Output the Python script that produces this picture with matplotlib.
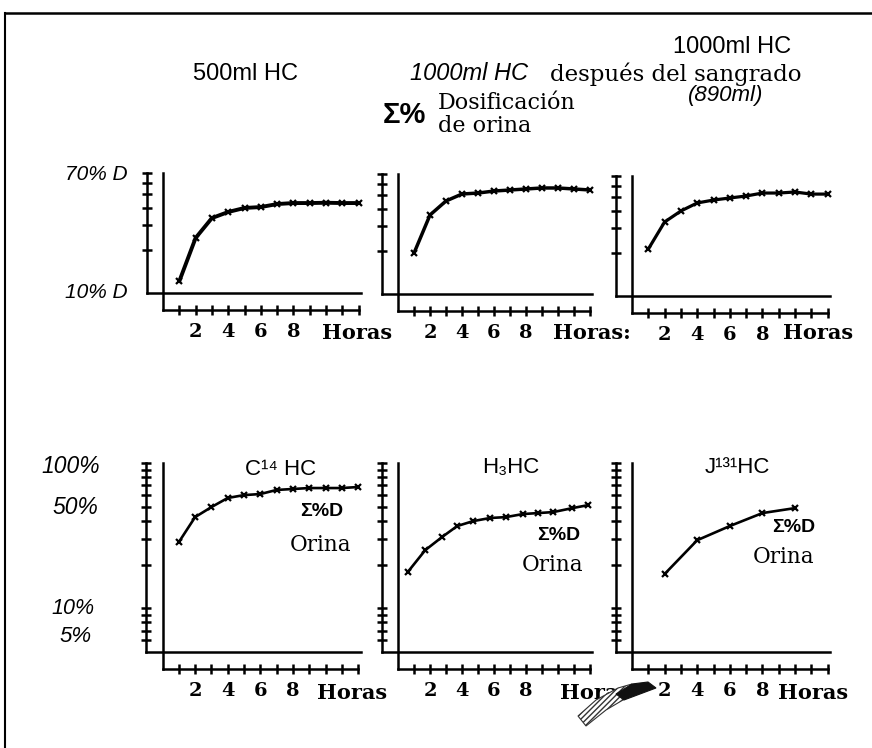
import numpy as np
import matplotlib
matplotlib.use("Agg")
import matplotlib.pyplot as plt
from matplotlib.lines import Line2D
from matplotlib.patches import Polygon
from matplotlib.ticker import NullLocator, NullFormatter

W, H = 872, 748

# ---------------- data (cumulative % of dose in urine) ----------------
hours = [1, 2, 3, 4, 5, 6, 7, 8, 9, 10, 11, 12]
hc500 = [12.1, 24.4, 33.7, 37.2, 39.7, 40.3, 42.3, 43.0, 43.0, 43.2, 43.0, 43.0]
hc1000 = [19.4, 36.0, 45.2, 50.6, 51.4, 53.1, 54.0, 54.9, 55.8, 55.8, 54.9, 54.0]
hc1000_bleed = [21.4, 33.2, 39.7, 45.2, 47.4, 49.0, 50.6, 53.1, 53.1, 54.0, 52.2, 52.2]

c14_hours = [1, 2, 3, 4, 5, 6, 7, 8, 9, 10, 11, 12]
c14 = [28.5, 42.4, 49.7, 57.4, 60.1, 61.1, 65.2, 66.2, 67.2, 67.2, 67.2, 68.3]
h3_hours = [0.6, 1.7, 2.75, 3.7, 4.7, 5.75, 6.75, 7.8, 8.75, 9.7, 10.9, 11.9]
h3 = [17.7, 25.1, 30.9, 36.8, 39.8, 41.8, 42.4, 44.5, 45.2, 45.9, 48.9, 51.3]
j131_hours = [2, 4, 6, 8, 10]
j131 = [17.2, 29.4, 36.8, 45.2, 48.9]

top_ticks = [20, 30, 40, 50, 60, 70]
bottom_ticks = [6, 7, 8, 9, 10, 20, 30, 40, 50, 60, 70, 80, 90, 100]
xtick_labels = ["", "2", "", "4", "", "6", "", "8", "", "", "", ""]

SANS = ["Liberation Sans", "DejaVu Sans"]
SERIF = ["DejaVu Serif"]

fig = plt.figure(figsize=(W / 100, H / 100), dpi=100)
fig.patch.set_facecolor("white")


def fx(x):
    return x / W


def fy(y):
    return 1 - y / H


def ptext(x, y, s, **kw):
    fig.text(fx(x), fy(y), s, **kw)


def make_panel(x0, dx, yline, ylo, yhi, decade, yticks, xs, ys, lw):
    xmax = 12.25
    left = x0 - dx
    right = x0 + xmax * dx
    bottom = yline + 17
    top = yline - np.log10(yhi / ylo) * decade
    ax = fig.add_axes([fx(left), fy(bottom), (right - left) / W, (bottom - top) / H])
    ax.set_facecolor("none")
    ax.set_yscale("log")
    ymin = ylo * 10 ** (-17 / decade)
    ax.set_ylim(ymin, yhi)
    ax.set_xlim(-1, xmax)
    for s in ax.spines.values():
        s.set_linewidth(1.8)
        s.set_color("black")
    ax.spines["left"].set_bounds(ylo, yhi)
    ax.spines["top"].set_position(("data", ylo))
    ax.spines["top"].set_bounds(-1, xmax - 0.1)
    ax.spines["right"].set_position(("data", 0))
    ax.spines["right"].set_bounds(ymin, yhi)
    ax.spines["bottom"].set_bounds(0, 12)
    ax.yaxis.set_ticks_position("left")
    ax.xaxis.set_ticks_position("bottom")
    ax.set_yticks(yticks)
    ax.set_yticklabels([])
    ax.yaxis.set_minor_locator(NullLocator())
    ax.yaxis.set_minor_formatter(NullFormatter())
    ax.tick_params(axis="y", which="major", direction="inout", length=7, width=1.8)
    ax.set_xticks(hours)
    ax.set_xticklabels(xtick_labels, family=SERIF, fontweight="bold", fontsize=14)
    ax.tick_params(axis="x", direction="inout", length=7, width=1.8, pad=6)
    ax.plot(xs, ys, color="black", lw=lw, marker="x", ms=5, mew=1.6,
            solid_capstyle="round", clip_on=False)
    return ax


# ---------------- top row ----------------
make_panel(163, 16.3, 293, 10, 70, 142, top_ticks, hours, hc500, 2.8)
make_panel(398, 16.0, 294, 10, 70, 142, top_ticks, hours, hc1000, 2.5)
make_panel(632, 16.3, 296, 10, 70, 142, top_ticks, hours, hc1000_bleed, 2.3)

# ---------------- bottom row ----------------
make_panel(162.5, 16.3, 652, 5, 100, 145.3, bottom_ticks, c14_hours, c14, 1.9)
make_panel(398, 16.0, 652, 5, 100, 145.3, bottom_ticks, h3_hours, h3, 1.9)
make_panel(632, 16.3, 652, 5, 100, 145.3, bottom_ticks, j131_hours, j131, 1.9)

# ---------------- texts ----------------
hand = dict(family=SANS, color="black")
serif = dict(family=SERIF, color="black")

# titles
ptext(193, 74, "500ml HC", fontsize=17, ha="left", va="center", **hand)
ptext(410, 74, "1000ml HC", fontsize=17, ha="left", va="center", style="italic", **hand)
ptext(550, 74, "después del sangrado", fontsize=16.5, ha="left", va="center", **serif)
ptext(673, 47, "1000ml HC", fontsize=17, ha="left", va="center", **hand)
ptext(688, 95, "(890ml)", fontsize=16, ha="left", va="center", style="italic", **hand)
ptext(383, 115, "Σ%", fontsize=21, ha="left", va="center", fontweight="bold", **hand)
ptext(438, 103, "Dosificación", fontsize=16, ha="left", va="center", **serif)
ptext(438, 126, "de orina", fontsize=16, ha="left", va="center", **serif)

# y-scale labels
ptext(128, 175, "70% D", fontsize=15, ha="right", va="center", style="italic", **hand)
ptext(128, 292, "10% D", fontsize=15, ha="right", va="center", style="italic", **hand)
ptext(100, 466, "100%", fontsize=16.5, ha="right", va="center", style="italic", **hand)
ptext(98, 507, "50%", fontsize=16.5, ha="right", va="center", style="italic", **hand)
ptext(95, 609, "10%", fontsize=15.5, ha="right", va="center", style="italic", **hand)
ptext(92, 636, "5%", fontsize=16, ha="right", va="center", style="italic", **hand)

# "Horas" labels
for (x, y, s) in [(322, 333, "Horas"), (553, 333, "Horas:"), (783, 333, "Horas"),
                  (317, 693, "Horas"), (560, 693, "Horas"), (778, 693, "Horas")]:
    ptext(x, y, s, fontsize=15, ha="left", va="center", fontweight="bold", **serif)

# scanned smudge covering part of the middle "Horas"
fig.add_artist(Polygon([(fx(578), fy(716)), (fx(596), fy(700)), (fx(618), fy(688)),
                        (fx(632), fy(684)), (fx(628), fy(697)), (fx(606), fy(710)),
                        (fx(586), fy(726))],
                       closed=True, facecolor="white", edgecolor="#333333",
                       hatch="//////", lw=0.8, zorder=10))
fig.add_artist(Polygon([(fx(616), fy(694)), (fx(632), fy(684)), (fx(648), fy(682)),
                        (fx(656), fy(688)), (fx(640), fy(694)), (fx(624), fy(700))],
                       closed=True, facecolor="#111111", edgecolor="#111111",
                       lw=0.8, zorder=11))

# bottom panel labels
ptext(245, 470, "C¹⁴ HC", fontsize=16, ha="left", va="center", **hand)
ptext(482, 467, "H₃HC", fontsize=16, ha="left", va="center", **hand)
ptext(705, 467, "J¹³¹HC", fontsize=16, ha="left", va="center", **hand)

for (x, y) in [(300, 512), (537, 535), (772, 528)]:
    ptext(x, y, "Σ%D", fontsize=14, ha="left", va="center", fontweight="bold", **hand)
for (x, y) in [(290, 545), (522, 565), (753, 557)]:
    ptext(x, y, "Orina", fontsize=15.5, ha="left", va="center", **serif)

# page frame of the scanned figure
fig.add_artist(Line2D([fx(5), fx(5)], [0, fy(13)], color="black", lw=1.5))
fig.add_artist(Line2D([fx(5), 1], [fy(13), fy(13)], color="black", lw=1.8))

fig.savefig("out.png", dpi=100, facecolor="white")
